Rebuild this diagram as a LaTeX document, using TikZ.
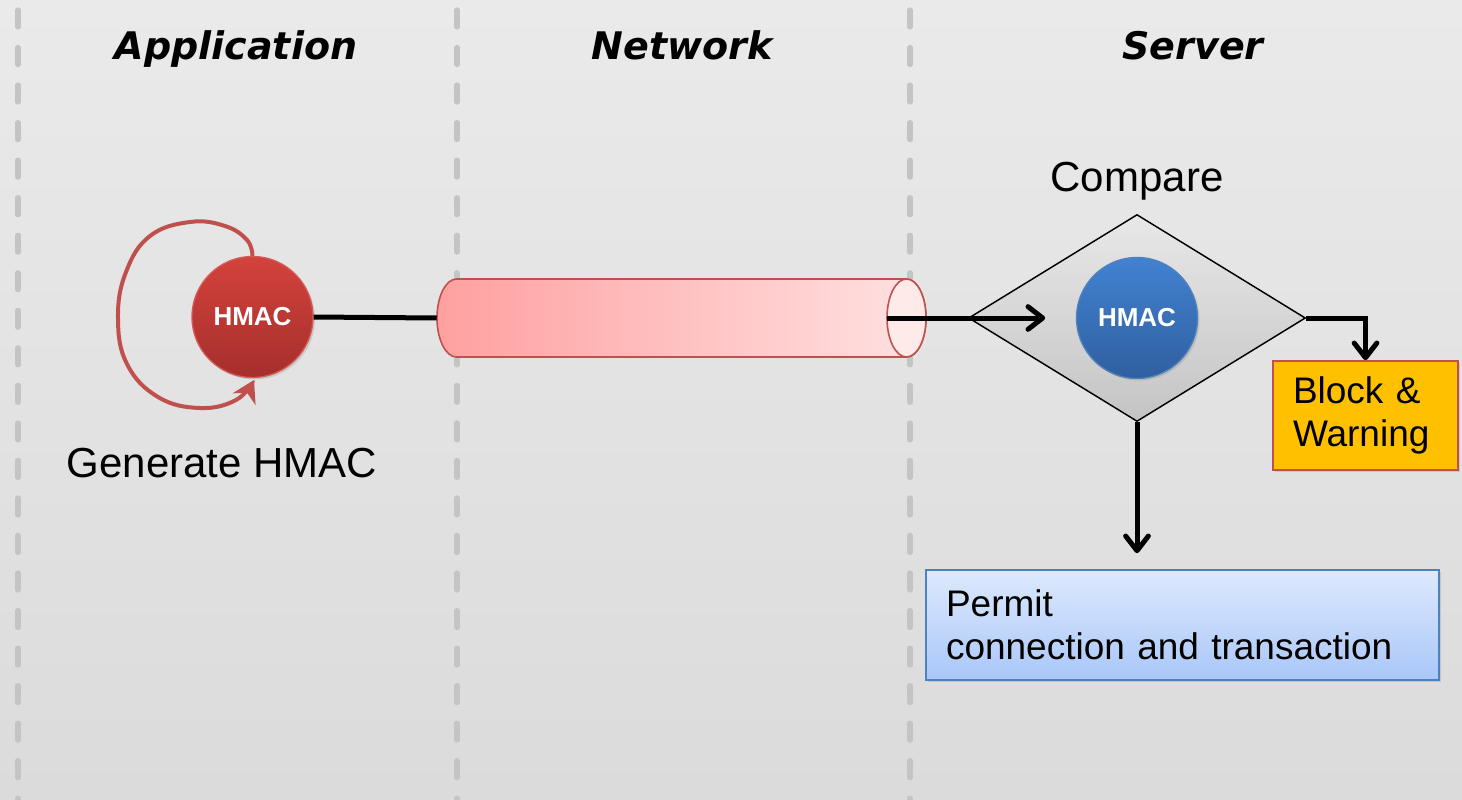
\documentclass[tikz,border=0pt]{standalone}
\usepackage{fontspec}
\setmainfont{Liberation Sans}
\newfontfamily\headfont{DejaVu Sans}
\usetikzlibrary{arrows.meta,shapes.geometric,shadows}

\definecolor{bgtop}{HTML}{EAEAEA}
\definecolor{bgbot}{HTML}{DBDBDB}
\definecolor{lanegray}{HTML}{C4C4C4}
\definecolor{redtop}{HTML}{D4423D}
\definecolor{redbot}{HTML}{A52F2B}
\definecolor{redrim}{HTML}{D35A56}
\definecolor{bluetop}{HTML}{4282D2}
\definecolor{bluebot}{HTML}{2F5F9F}
\definecolor{bluerim}{HTML}{4F81BD}
\definecolor{pipeleft}{HTML}{FFA0A0}
\definecolor{piperight}{HTML}{FFE2E2}
\definecolor{pipeedge}{HTML}{C0504D}
\definecolor{pipeface}{HTML}{FFEAEA}
\definecolor{cmptop}{HTML}{E8E8E8}
\definecolor{cmpbot}{HTML}{C4C4C4}
\definecolor{blockfill}{HTML}{FFC000}
\definecolor{blockedge}{HTML}{C0504D}
\definecolor{permittop}{HTML}{DDE9FD}
\definecolor{permitbot}{HTML}{A9C7F8}
\definecolor{permitedge}{HTML}{4F81BD}
\definecolor{loopred}{HTML}{C0504D}

\begin{document}
\begin{tikzpicture}[
  x=0.75pt, y=-0.75pt,
  >={Straight Barb[length=11pt,width=17pt,line cap=round,line join=round]},
  lane/.style={
    draw=lanegray,
    line width=3.9pt,
    line cap=round,
    dash pattern=on 12.75pt off 15.4pt
  },
  head/.style={anchor=base, font=\headfont\bfseries\itshape\fontsize{28.5}{34}\selectfont},
  hmac/.style={
    circle,
    minimum size=90.75pt,
    inner sep=0pt,
    line width=1pt,
    text=white,
    font=\bfseries\fontsize{19.5}{23}\selectfont,
    drop shadow={shadow xshift=1.5pt,shadow yshift=-1.5pt,opacity=0.25}
  },
  label/.style={font=\fontsize{31.5}{37}\selectfont},
  note/.style={
    draw,
    line width=1.2pt,
    align=left,
    inner xsep=15pt,
    inner ysep=0pt,
    font=\fontsize{27.75}{32.5}\selectfont,
    drop shadow={shadow xshift=1.5pt,shadow yshift=-1.5pt,opacity=0.25}
  },
  flow/.style={draw=black, line width=3.75pt},
  loopline/.style={draw=loopred, line width=3pt, -{Stealth[length=16pt,width=19pt,inset=5pt]}}
]
  % background and lanes
  \useasboundingbox (0,0) rectangle (1462,799);
  \shade[top color=bgtop, bottom color=bgbot] (0,0) rectangle (1462,799);
  \draw[lane] (18,10) -- (18,799) (457,10) -- (457,799) (910,10) -- (910,799);

  \node[head] (app) at (236,60) {Application};
  \node[head] (net) at (682,60) {Network};
  \node[head] (srv) at (1193,60) {Server};

  % application side
  \node[hmac, top color=redtop, bottom color=redbot, draw=redrim] (apphmac) at (252.5,317) {HMAC};
  \draw[loopline] plot[smooth, tension=0.7] coordinates {(apphmac.north) (247,240) (225,226) (190,222) (150,236) (126,272) (118,318) (127,364) (158,397) (200,408) (236,400) (254,380)};
  \node[label, anchor=base] (gen) at (222,477) {Generate HMAC};

  % network pipe
  \node[inner sep=0pt, minimum width=366.75pt, minimum height=58.5pt] (pipe) at (681.5,318) {};
  \shade[left color=pipeleft, right color=piperight, draw=pipeedge, line width=1.2pt]
    (456.5,279) arc[start angle=90, end angle=270, x radius=14.625pt, y radius=29.25pt]
    -- (906.5,357) arc[start angle=-90, end angle=90, x radius=14.625pt, y radius=29.25pt] -- cycle;
  \draw[fill=pipeface, draw=pipeedge, line width=1.2pt] (906.5,318) ellipse[x radius=14.625pt, y radius=29.25pt];

  % server side
  \node[label, anchor=base] (cmplabel) at (1137,191) {Compare};
  \node[diamond, aspect=1.63, minimum width=252.75pt, minimum height=155.25pt, inner sep=0pt,
        draw, line width=1.1pt, top color=cmptop, bottom color=cmpbot] (cmp) at (1137,318) {};
  \node[hmac, top color=bluetop, bottom color=bluebot, draw=bluerim] (srvhmac) at (1137,318) {HMAC};

  \node[note, fill=blockfill, draw=blockedge, text width=108.75pt, minimum height=81.75pt] (block) at (1365.5,415.5) {Block \&\\Warning};
  \node[note, top color=permittop, bottom color=permitbot, draw=permitedge, text width=354.75pt, minimum height=82.5pt] (permit) at (1182.5,625) {Permit\\connection and transaction};

  % connectors
  \draw[flow] (apphmac.east) -- (pipe.west);
  \draw[flow, ->, shorten >=23pt] ([xshift=-29.25pt]pipe.east) -- (srvhmac.west);
  \draw[flow, ->] (cmp.east) -| (block.north);
  \draw[flow, ->, shorten >=12pt] (cmp.south) -- (cmp.south |- permit.north);
\end{tikzpicture}
\end{document}
